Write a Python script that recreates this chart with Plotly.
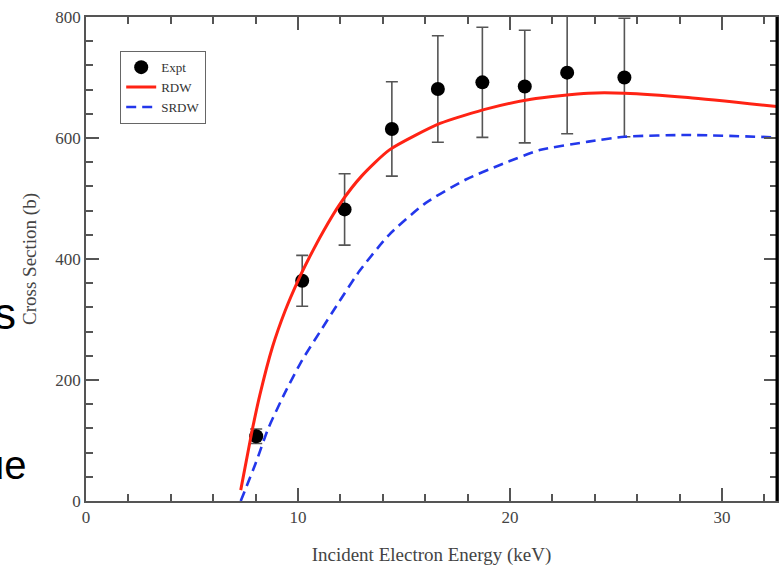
import plotly.graph_objects as go

# Experimental cross sections
expt_energy = [8.03, 10.2, 12.2, 14.43, 16.6, 18.7, 20.7, 22.7, 25.4]
expt_sigma = [107, 364, 482, 615, 681, 692, 685, 708, 700]
expt_err = [12, 42, 59, 78, 88, 91, 93, 101, 98]

# RDW calculation
rdw_energy = [7.3, 7.8, 8.2, 8.8, 9.4, 10.0, 10.5, 11.2, 12.0, 13.0, 14.3,
              16.7, 19.0, 21.0, 23.7, 25.4, 28.4, 32.6]
rdw_sigma = [18, 110, 175, 255, 315, 364, 400, 446, 492, 537, 580,
             624, 649, 664, 674, 674, 667, 652]

# SRDW calculation
srdw_energy = [7.3, 8.0, 8.6, 9.4, 10.2, 11.1, 11.9, 12.9, 14.3, 16.0,
               17.9, 19.5, 21.4, 23.7, 25.4, 28.4, 32.6]
srdw_sigma = [0, 62, 120, 180, 233, 283, 327, 380, 440, 492,
              531, 555, 580, 594, 602, 605, 601]

x_ticks = [0, 10, 20, 30]
y_ticks = [0, 200, 400, 600, 800]

serif = "Liberation Serif, Times New Roman, serif"
frame_grey = "#555555"
text_grey = "#444444"

fig = go.Figure()
fig.add_trace(go.Scatter(
    x=expt_energy, y=expt_sigma, mode="markers", name="Expt",
    marker=dict(color="black", size=14),
    error_y=dict(type="data", array=expt_err, color=frame_grey,
                 thickness=1.6, width=6),
))
fig.add_trace(go.Scatter(
    x=rdw_energy, y=rdw_sigma, mode="lines", name="RDW",
    line=dict(color="rgb(255,35,20)", width=3, shape="spline", smoothing=0.6),
))
fig.add_trace(go.Scatter(
    x=srdw_energy, y=srdw_sigma, mode="lines", name="SRDW",
    line=dict(color="rgb(35,55,235)", width=2.6, dash="10px,6px",
              shape="spline", smoothing=0.6),
))

axis_common = dict(
    showgrid=False, zeroline=False, showline=True, linecolor=frame_grey,
    linewidth=1.5, mirror="ticks", ticks="inside", ticklen=13, tickwidth=1.5,
    tickcolor=frame_grey, tickfont=dict(family=serif, size=17, color=text_grey),
    automargin=False,
)

fig.update_xaxes(
    range=[0, 32.6], tickvals=x_ticks, ticktext=[str(v) for v in x_ticks],
    minor=dict(dtick=2, ticks="inside", ticklen=7, tickwidth=1.5, tickcolor=frame_grey),
    title=dict(text="Incident Electron Energy (keV)", standoff=24,
               font=dict(family=serif, size=19, color=text_grey)),
    **axis_common,
)
fig.update_yaxes(
    range=[0, 800], tickvals=y_ticks, ticktext=[str(v) for v in y_ticks],
    minor=dict(dtick=40, ticks="inside", ticklen=7, tickwidth=1.5, tickcolor=frame_grey),
    title=dict(text="Cross Section (b)", standoff=14,
               font=dict(family=serif, size=19, color=text_grey)),
    **axis_common,
)

# heavy right-hand frame edge
fig.add_shape(type="line", xref="paper", yref="paper", x0=1, x1=1, y0=0, y1=1,
              line=dict(color="black", width=3))

# fragments of slide text at the left edge
fig.add_annotation(text="s", xref="paper", yref="paper",
                   x=(18 - 86) / 691, y=(501 - 313) / 484,
                   xanchor="right", yanchor="middle", showarrow=False,
                   font=dict(family="Liberation Sans, Arial", size=44, color="black"))
fig.add_annotation(text="ue", xref="paper", yref="paper",
                   x=(29 - 86) / 691, y=(501 - 465) / 484,
                   xanchor="right", yanchor="middle", showarrow=False,
                   font=dict(family="Liberation Sans, Arial", size=40, color="black"))

fig.update_layout(
    width=783, height=566,
    margin=dict(l=86, r=6, t=17, b=65, autoexpand=False),
    plot_bgcolor="white", paper_bgcolor="white",
    showlegend=True,
    legend=dict(x=(120 - 86) / 691, y=(501 - 51) / 484, xanchor="left", yanchor="top",
                bgcolor="white", bordercolor="#666666", borderwidth=1.2,
                font=dict(family=serif, size=13, color="#333333"),
                itemwidth=30, tracegroupgap=0),
)

fig.write_html("out.html")
